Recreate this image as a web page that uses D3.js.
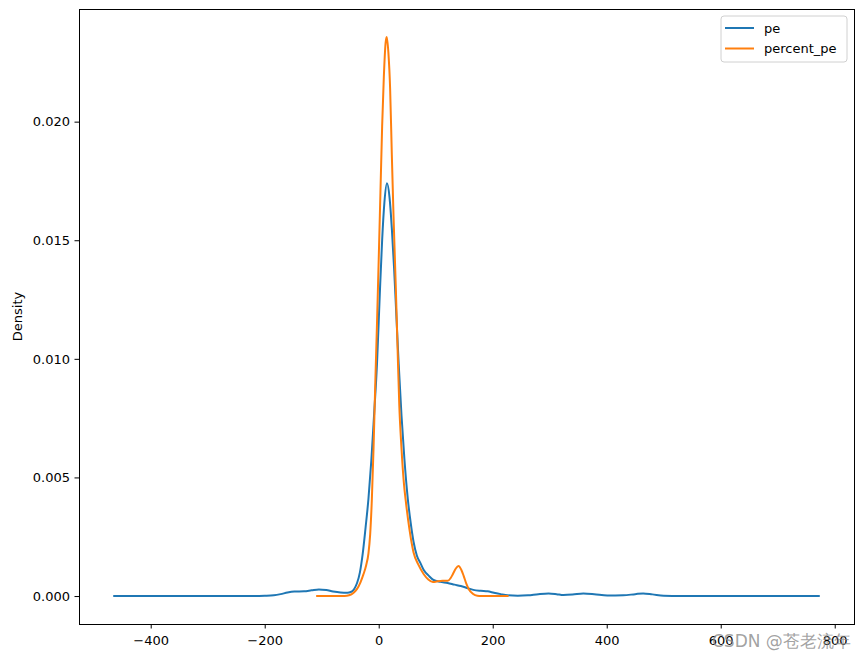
<!DOCTYPE html>
<html>
<head>
<meta charset="utf-8">
<script src="https://cdn.jsdelivr.net/npm/d3@7"></script>
<style>
  body { margin: 0; background: #fff; }
  text { font-family: "DejaVu Sans", sans-serif; }
</style>
</head>
<body>
<div id="chart"></div>
<script>
// kde curves: [x, density]
var peX = [-464, -300, -220, -200, -184, -172, -160, -148, -131, -118, -105, -92, -80, -67, -55, -49,
  -43, -38, -33, -28, -23, -18, -13, -8, -3, 2, 6, 10, 14.5, 19, 23, 27, 31, 35, 40, 45, 51, 56, 61,
  67, 73, 79, 88, 96, 108, 121, 133, 144, 155, 166, 179, 191, 202, 214, 226, 244, 262, 280, 298, 312,
  324, 340, 359, 378, 401, 429, 450, 464, 480, 500, 530, 772];
var peY = [0, 0, 0, 0.00001, 0.00003, 0.00008, 0.00015, 0.00019, 0.0002, 0.00024, 0.00028, 0.00025, 0.00019, 0.00015, 0.00014, 0.00017,
  0.0003, 0.00055, 0.001, 0.0018, 0.0029, 0.0041, 0.0057, 0.0077, 0.0098, 0.0128, 0.015, 0.0166, 0.0174, 0.0168, 0.0155, 0.0138, 0.0118, 0.0098, 0.0076, 0.0058, 0.0041, 0.0031, 0.0023,
  0.0017, 0.0014, 0.0011, 0.00085, 0.00068, 0.0006, 0.00055, 0.00048, 0.00042, 0.00034, 0.00026, 0.00022, 0.0002, 0.00014, 0.00008, 0.00003, 0.00001, 0.00003, 0.00008, 0.00011, 0.00008,
  0.00004, 0.00006, 0.00011, 0.00008, 0.00002, 0.00003, 0.00008, 0.00011, 0.00007, 0.00001, 0, 0];

var pctX = [-108, -60, -52, -44, -38, -32, -27, -22, -18, -15, -12, -9, -6, -3, 0, 3, 6, 9, 12, 14,
  17, 20, 23, 26, 30, 33, 36, 40, 44, 48, 54, 61, 70, 79, 87, 95, 103, 112, 121, 126, 130, 135, 140,
  145, 149, 154, 158, 165, 173, 180, 226];
var pctY = [0, 0, 0.00003, 0.00014, 0.0003, 0.00058, 0.0009, 0.0013, 0.0018, 0.0026, 0.0041, 0.0063, 0.009, 0.0115, 0.0142, 0.017, 0.0198, 0.0219, 0.0233, 0.02357,
  0.0229, 0.0214, 0.0186, 0.016, 0.013, 0.0105, 0.0081, 0.0062, 0.0048, 0.0039, 0.0028, 0.00185, 0.0013, 0.00092, 0.0007, 0.00059, 0.00062, 0.00064, 0.00064, 0.00075, 0.00092, 0.00115, 0.00127,
  0.0011, 0.00085, 0.0005, 0.00029, 0.0001, 0.00001, 0, 0];

var seriesNames = ["pe", "percent_pe"];
var xTicks = [-400, -200, 0, 200, 400, 600, 800];
var yTicks = [0, 0.005, 0.010, 0.015, 0.020];

var width = 864, height = 659;
var plotL = 79, plotR = 854, plotT = 9, plotB = 624;
var color = d3.scaleOrdinal(seriesNames, ["#1f77b4", "#ff7f0e"]);

var svg = d3.select("#chart")
    .append("svg")
    .attr("width", width)
    .attr("height", height);

var x = d3.scaleLinear().domain([-525.8, 833.8]).range([plotL, plotR]);
var y = d3.scaleLinear().domain([-0.001179, 0.024749]).range([plotB, plotT]);

var series = [
  { name: "pe", pts: d3.zip(peX, peY) },
  { name: "percent_pe", pts: d3.zip(pctX, pctY) }
];

var line = d3.line()
    .x(function(d) { return x(d[0]); })
    .y(function(d) { return y(d[1]); })
    .curve(d3.curveMonotoneX);

svg.selectAll(".kde")
    .data(series)
    .enter()
    .append("path")
    .attr("class", "kde")
    .attr("d", function(d) { return line(d.pts); })
    .attr("fill", "none")
    .attr("stroke", function(d) { return color(d.name); })
    .attr("stroke-width", 2)
    .attr("stroke-linejoin", "round")
    .attr("stroke-linecap", "square");

// axes
var xAxis = svg.append("g")
    .attr("transform", "translate(0," + plotB + ")")
    .call(d3.axisBottom(x).tickValues(xTicks).tickSize(4.5).tickPadding(4.5).tickFormat(d3.format("d")));
var yAxis = svg.append("g")
    .attr("transform", "translate(" + plotL + ",0)")
    .call(d3.axisLeft(y).tickValues(yTicks).tickSize(4.5).tickPadding(4.5).tickFormat(d3.format(".3f")));

[xAxis, yAxis].forEach(function(g) {
  g.select(".domain").remove();
  g.selectAll("text").attr("font-size", 13).attr("fill", "#000")
    .attr("font-family", "DejaVu Sans, sans-serif");
  g.selectAll("line").attr("stroke", "#000").attr("stroke-width", 1);
});
xAxis.selectAll("text").attr("dy", "0.95em");

svg.append("rect")
    .attr("x", plotL + 0.5)
    .attr("y", plotT + 0.5)
    .attr("width", plotR - plotL)
    .attr("height", plotB - plotT)
    .attr("fill", "none")
    .attr("stroke", "#000")
    .attr("stroke-width", 1);

svg.append("text")
    .attr("transform", "translate(22," + ((plotT + plotB) / 2) + ") rotate(-90)")
    .attr("text-anchor", "middle")
    .attr("font-size", 13)
    .text("Density");

// legend
var lg = svg.append("g").attr("transform", "translate(721,16)");
lg.append("rect")
    .attr("width", 126)
    .attr("height", 46)
    .attr("rx", 3)
    .attr("fill", "#fff")
    .attr("fill-opacity", 0.8)
    .attr("stroke", "#d0d0d0");
var item = lg.selectAll(".item")
    .data(seriesNames)
    .enter()
    .append("g")
    .attr("class", "item")
    .attr("transform", function(d, i) { return "translate(0," + (12 + i * 20.5) + ")"; });
item.append("line")
    .attr("x1", 4).attr("x2", 33)
    .attr("stroke", function(d) { return color(d); })
    .attr("stroke-width", 2);
item.append("text")
    .attr("x", 43)
    .attr("dy", "0.35em")
    .attr("font-size", 13)
    .text(function(d) { return d; });

// watermark
svg.append("text")
    .attr("x", 712)
    .attr("y", 647)
    .attr("font-size", 17)
    .attr("font-family", "Noto Sans CJK SC, sans-serif")
    .attr("fill", "#8a8a8a")
    .attr("fill-opacity", 0.8)
    .text("CSDN @苍老流年");
</script>
</body>
</html>
